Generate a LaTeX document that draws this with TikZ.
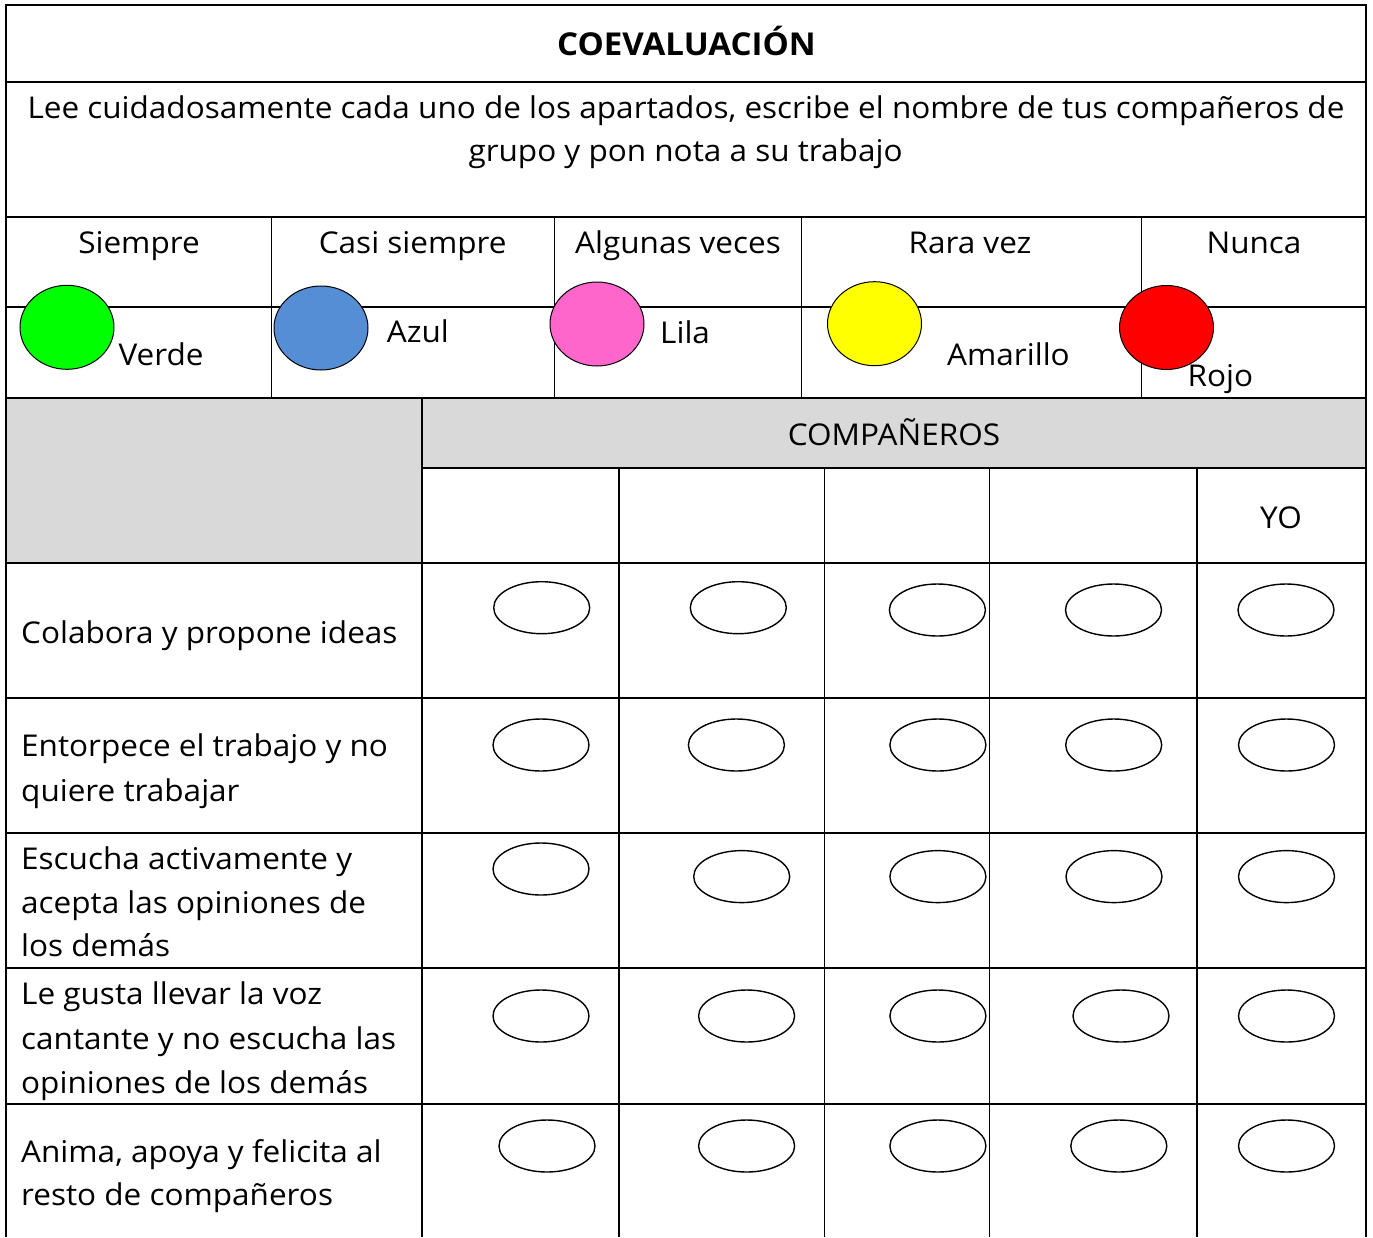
\documentclass[tikz,border=0pt]{standalone}
\usepackage{fontspec}
\setmainfont[FakeStretch=1.05]{Open Sans}
\usetikzlibrary{shapes.geometric}
\definecolor{hdrgray}{HTML}{D9D9D9}
\definecolor{cverde}{HTML}{00FF00}
\definecolor{cazul}{HTML}{558ED5}
\definecolor{clila}{HTML}{FF66CC}
\definecolor{camarillo}{HTML}{FFFF00}
\definecolor{crojo}{HTML}{FF0000}
\begin{document}
\begin{tikzpicture}[x=1pt,y=-1pt,
  txt/.style={inner sep=0pt, font=\fontsize{30}{36}\selectfont},
  thick line/.style={line width=2pt},
  thin line/.style={line width=0.9pt},
  mid line/.style={line width=1.6pt},
  dot/.style={ellipse, draw=black, line width=1pt, inner sep=0pt, minimum width=94pt, minimum height=84pt},
  slot/.style={ellipse, draw=black, line width=1.4pt, fill=white, inner sep=0pt, minimum width=96pt, minimum height=52pt}]
\useasboundingbox (0,0) rectangle (1373,1237);
% gray header cells
\fill[hdrgray] (6,398) rectangle (422,563);
\fill[hdrgray] (422,398) rectangle (1366,468);
% outer frame (open at bottom)
\draw[thick line] (6,1237) -- (6,5) -- (1366,5) -- (1366,1237);
% horizontal rules
\foreach \yy in {82,217,307,398,563,698,833,968,1104}
  \draw[thick line] (6,\yy) -- (1366,\yy);
\draw[thick line] (422,468) -- (1366,468);
% legend column separators
\foreach \xx in {271,554.5,801,1141}
  \draw[thin line] (\xx,217) -- (\xx,398);
% table column separators
\draw[mid line] (422,398) -- (422,1237);
\foreach \xx in {619,824.5,989.5,1197}
  \draw[mid line] (\xx,468) -- (\xx,1237);

% title and instructions
\node[txt, anchor=base, font=\fontsize{31.5}{36}\selectfont\bfseries] (title) at (686.5,55) {COEVALUACIÓN};
\node[txt, anchor=base] (instr1) at (686,118.3) {Lee cuidadosamente cada uno de los apartados, escribe el nombre de tus compañeros de};
\node[txt, anchor=base] (instr2) at (685.5,161.7) {grupo y pon nota a su trabajo};

% legend headers
\node[txt, anchor=base] (hsiempre) at (139,253) {Siempre};
\node[txt, anchor=base] (hcasi) at (412.7,253) {Casi siempre};
\node[txt, anchor=base] (halgunas) at (678,253) {Algunas veces};
\node[txt, anchor=base] (hrara) at (970,253) {Rara vez};
\node[txt, anchor=base] (hnunca) at (1254,253) {Nunca};

% legend colour dots
\node[dot, fill=cverde] (dverde) at (67,327.3) {};
\node[dot, fill=cazul] (dazul) at (321,328) {};
\node[dot, fill=clila] (dlila) at (597,324) {};
\node[dot, fill=camarillo] (damarillo) at (874.5,323.7) {};
\node[dot, fill=crojo] (drojo) at (1166.5,327.5) {};

% legend colour names
\node[txt, anchor=base west] (lverde) at (118.3,365) {Verde};
\node[txt, anchor=base west] (lazul) at (386.7,342.7) {Azul};
\node[txt, anchor=base west] (llila) at (660,343) {Lila};
\node[txt, anchor=base west] (lamarillo) at (947,365) {Amarillo};
\node[txt, anchor=base west] (lrojo) at (1187.5,386.7) {Rojo};

% table headers
\node[txt, anchor=base] (companeros) at (894,445) {COMPAÑEROS};
\node[txt, anchor=base] (yo) at (1281,528) {YO};

% row labels
\node[txt, anchor=base west] (r1a) at (21,643) {Colabora y propone ideas};
\node[txt, anchor=base west] (r2a) at (21,756) {Entorpece el trabajo y no};
\node[txt, anchor=base west] (r2b) at (21,801.6) {quiere trabajar};
\node[txt, anchor=base west] (r3a) at (21,869.6) {Escucha activamente y};
\node[txt, anchor=base west] (r3b) at (21,913) {acepta las opiniones de};
\node[txt, anchor=base west] (r3c) at (21,956.8) {los demás};
\node[txt, anchor=base west] (r4a) at (21,1004) {Le gusta llevar la voz};
\node[txt, anchor=base west] (r4b) at (21,1049) {cantante y no escucha las};
\node[txt, anchor=base west] (r4c) at (21,1093) {opiniones de los demás};
\node[txt, anchor=base west] (r5a) at (21,1162.6) {Anima, apoya y felicita al};
\node[txt, anchor=base west] (r5b) at (21,1205.5) {resto de compañeros};

% answer ellipses
\node[slot] (e11) at (541.7,607.7) {};
\node[slot] (e12) at (738.3,607.7) {};
\node[slot] (e13) at (937.4,610) {};
\node[slot] (e14) at (1113.5,610) {};
\node[slot] (e15) at (1286,610) {};
\node[slot] (e21) at (541,745) {};
\node[slot] (e22) at (736.4,745) {};
\node[slot] (e23) at (937.9,745) {};
\node[slot] (e24) at (1113.7,745) {};
\node[slot] (e25) at (1286.5,745) {};
\node[slot] (e31) at (541,869) {};
\node[slot] (e32) at (741.7,876.6) {};
\node[slot] (e33) at (937.9,876.6) {};
\node[slot] (e34) at (1114,876.6) {};
\node[slot] (e35) at (1286.5,876.6) {};
\node[slot] (e41) at (541,1016) {};
\node[slot] (e42) at (746.6,1016) {};
\node[slot] (e43) at (937.9,1016) {};
\node[slot] (e44) at (1121,1016) {};
\node[slot] (e45) at (1286.5,1016) {};
\node[slot] (e51) at (547,1146) {};
\node[slot] (e52) at (746.6,1146) {};
\node[slot] (e53) at (937.9,1146) {};
\node[slot] (e54) at (1118.8,1146) {};
\node[slot] (e55) at (1286.5,1146) {};
\end{tikzpicture}
\end{document}
